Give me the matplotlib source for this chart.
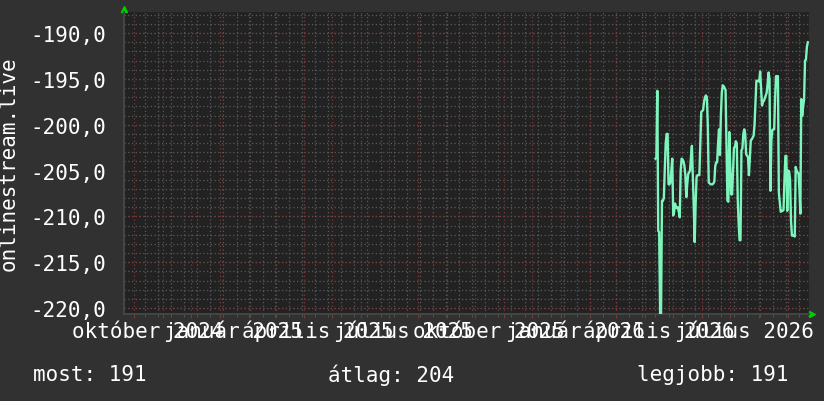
import matplotlib
matplotlib.use("Agg")
import matplotlib.pyplot as plt
import matplotlib.transforms as mtransforms
import pandas as pd

# daily values, first one on 2026-04-12
start_day = "2026-04-12"
values = [
    -203.7, -203.6, -196.3, -211.6, -211.7, -220.6, -220.6, -208.3, -208.3, -208.0,
    -204.8, -202.0, -201.0, -201.0, -206.5, -206.5, -206.3, -205.0, -203.7, -209.9,
    -209.5, -208.6, -209.0, -209.1, -209.0, -209.5, -210.1, -205.0, -203.7, -203.8,
    -204.0, -204.5, -205.5, -207.9, -206.5, -205.4, -205.2, -205.0, -203.5, -202.3,
    -205.6, -209.0, -212.8, -208.6, -205.7, -205.5, -205.5, -205.5, -202.0, -198.6,
    -198.5, -198.4, -197.5, -197.0, -196.8, -197.0, -200.0, -206.3, -206.4, -206.5,
    -206.5, -206.5, -206.4, -206.2, -204.5, -204.1, -204.1, -202.0, -200.5, -203.3,
    -199.0, -196.5, -195.7, -195.8, -196.0, -196.2, -202.0, -208.3, -208.4, -200.8,
    -204.5, -207.6, -207.6, -205.0, -202.5, -202.4, -201.8, -202.0, -208.0, -210.8,
    -212.6, -212.6, -202.8, -202.6, -201.0, -200.5, -201.0, -203.2, -203.4, -203.5,
    -205.5, -203.5, -201.7, -201.6, -201.4, -201.2, -200.0, -197.5, -195.2, -195.2,
    -195.2, -195.3, -194.2, -196.0, -197.9, -197.5, -197.4, -197.1, -196.8, -196.5,
    -195.5, -194.3, -195.0, -207.2, -201.7, -200.6, -200.5, -200.5, -197.0, -194.7,
    -194.7, -194.7, -207.4, -208.5, -209.5, -209.4, -209.4, -209.3, -206.0, -203.4,
    -203.4, -209.4, -205.0, -205.1, -206.0, -210.5, -212.1, -212.1, -212.1, -212.2,
    -204.6, -205.0, -205.2, -205.3, -207.0, -209.7, -197.2, -199.0, -198.0, -197.2,
    -193.0, -192.9, -191.5, -191.0,
]

hu_months = ["január", "február", "március", "április", "május", "június",
             "július", "augusztus", "szeptember", "október", "november", "december"]
label_months = ["2024-10", "2025-01", "2025-04", "2025-07",
                "2025-10", "2026-01", "2026-04", "2026-07"]
y_ticks = [-220, -215, -210, -205, -200, -195, -190]
legend_texts = ["most: 191", "átlag: 204", "legjobb: 191"]
ylabel = "onlinestream.live"

x_start = pd.Timestamp("2024-09-20 14:00")
x_end = pd.Timestamp("2026-09-23 06:00")

BACK = "#313131"
CANVAS = "#222222"
GRID = "#5a5a5a"
MGRID = "#7a3a3a"
LINE = "#7df5bd"
FONT = "DejaVu Sans Mono"

plt.rcParams["font.family"] = FONT
fig = plt.figure(figsize=(8.24, 4.02), dpi=100, facecolor=BACK)
W, H = 824, 402
ax = fig.add_axes([124 / W, (H - 315) / H, (809 - 124) / W, (315 - 13) / H])
ax.set_facecolor(CANVAS)

dates = pd.date_range(start_day, periods=len(values), freq="D")

ax.set_xlim(x_start, x_end)
ax.set_ylim(-220.65, -187.7)

# grid: minor every 14 days / 1 unit, major every month / 5 units
minor_x = pd.date_range("2024-10-13", x_end, freq="14D")
major_x = pd.date_range("2024-10-01", x_end, freq="MS")
dot = (0, (1, 2))
for d in minor_x:
    ax.axvline(d, color=GRID, lw=0.9, ls=dot, zorder=1)
for v in range(-220, -187):
    ax.axhline(v, color=GRID, lw=0.9, ls=dot, zorder=1)
for d in major_x:
    ax.axvline(d, color=MGRID, lw=0.9, ls=dot, zorder=2)
for v in y_ticks:
    ax.axhline(v, color=MGRID, lw=0.9, ls=dot, zorder=2)

ax.plot(dates, values, color=LINE, lw=1.7, zorder=3)

ax.set_xticks(major_x)
ax.set_xticklabels([])
ax.set_xticks(minor_x, minor=True)
ax.set_yticks(y_ticks)
ax.set_yticklabels([f"{v:.1f}".replace(".", ",") for v in y_ticks])
ax.tick_params(axis="y", length=0, pad=13, labelsize=15, colors="white")
ax.tick_params(axis="x", which="major", length=3, color=MGRID, direction="out")
ax.tick_params(axis="x", which="minor", length=2, color=GRID, direction="out")

for s in ["top", "right"]:
    ax.spines[s].set_visible(False)
for s in ["left", "bottom"]:
    ax.spines[s].set_color("#444444")
    ax.spines[s].set_linewidth(1.5)

# month labels centred half a month after the tick, like rrdtool
lab_tr = mtransforms.blended_transform_factory(ax.transData, fig.transFigure)
for m in label_months:
    t = pd.Timestamp(m + "-01")
    txt = f"{hu_months[t.month - 1]} {t.year}"
    ax.text(t + pd.Timedelta(days=15), 1 - 338 / H, txt, transform=lab_tr,
            ha="center", va="baseline", fontsize=15, color="white", clip_on=False)

ax.set_ylabel(ylabel, fontsize=15, color="white")
ax.yaxis.set_label_coords(-105 / (809 - 124), 0.5)

# axis arrows
ax.plot([0], [1.01], marker="^", color="#00d000", ms=5, transform=ax.transAxes, clip_on=False)
ax.plot([1.005], [0], marker=">", color="#00d000", ms=5, transform=ax.transAxes, clip_on=False)

xs = [33, 328, 637]
for x, txt in zip(xs, legend_texts):
    fig.text(x / W, 1 - 375 / H, txt, fontsize=15, color="white", ha="left", va="center")

fig.savefig("out.png", dpi=100, facecolor=BACK)
